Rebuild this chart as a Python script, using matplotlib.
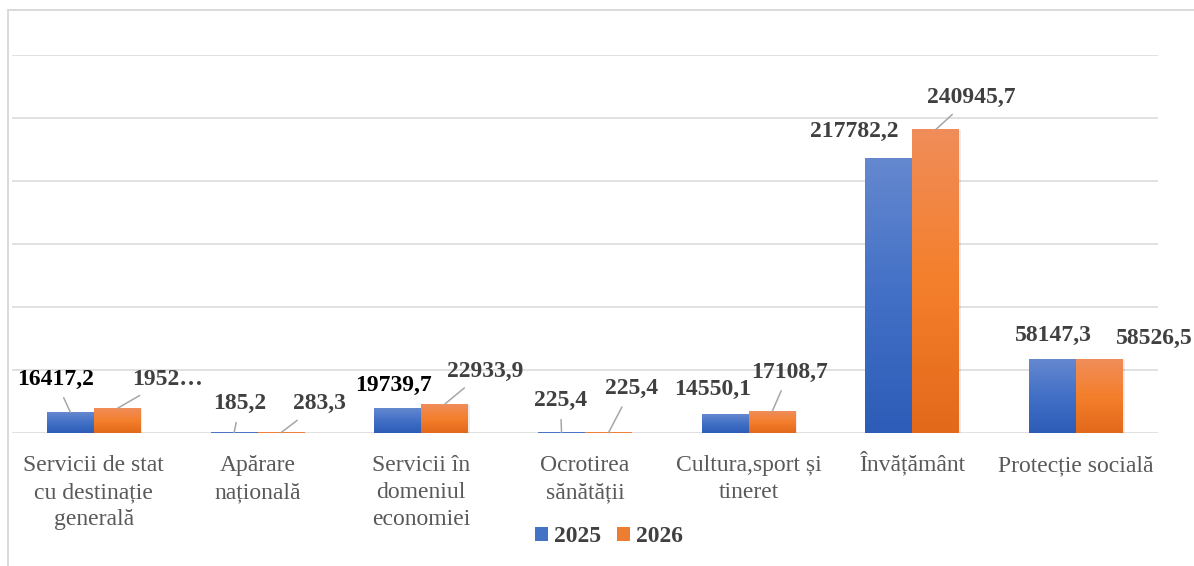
import numpy as np
import matplotlib
matplotlib.use("Agg")
import matplotlib.pyplot as plt
from matplotlib.colors import LinearSegmentedColormap
from matplotlib.patches import Patch, Rectangle
from matplotlib.transforms import ScaledTranslation

# ---- data ----
categories = [
    "Servicii de stat\ncu destinație\ngenerală",
    "Apărare\nnațională",
    "Servicii în\ndomeniul\neconomiei",
    "Ocrotirea\nsănătății",
    "Cultura,sport și\ntineret",
    "Învățământ",
    "Protecție socială",
]
series_names = ["2025", "2026"]
values_2025 = [16417.2, 185.2, 19739.7, 225.4, 14550.1, 217782.2, 58147.3]
values_2026 = [19520.0, 283.3, 22933.9, 225.4, 17108.7, 240945.7, 58526.5]
labels_2025 = ["16417,2", "185,2", "19739,7", "225,4", "14550,1", "217782,2", "58147,3"]
labels_2026 = ["1952…", "283,3", "22933,9", "225,4", "17108,7", "240945,7", "58526,5"]
y_ticks = [0, 50000, 100000, 150000, 200000, 250000, 300000]

# ---- label layout (offsets in pixels from bar-top centre) ----
off_2025 = [(-15, 33), (6, 29), (-4, 23), (-1, 32), (-13, 25), (-35, 27), (1, 24)]
off_2026 = [(50, 29), (38, 29), (40, 33), (23, 44), (17, 39), (35, 32), (55, 21)]
leader_2025 = [True, True, False, True, False, False, False]
leader_2026 = [True, True, True, True, True, True, False]
color_2025 = ["#000000", "#404040", "#000000", "#404040", "#404040", "#404040", "#404040"]
color_2026 = ["#404040"] * 7

FONT = ["Liberation Serif", "DejaVu Serif"]
plt.rcParams["font.family"] = FONT

W, H = 1194, 566
fig = plt.figure(figsize=(W / 100, H / 100), dpi=100)
ax = fig.add_axes([12 / W, (H - 433) / H, (1158 - 12) / W, (433 - 55) / H])

# outer chart frame (only left/top visible)
fig.patches.append(Rectangle((8 / W, -0.2), 1.5, (H - 10) / H + 0.2, transform=fig.transFigure,
                             fill=False, edgecolor="#d9d9d9", lw=1.4, zorder=0))

x = np.arange(len(categories))
bw = 0.287
bars1 = ax.bar(x - bw / 2, values_2025, bw, color="none", zorder=3)
bars2 = ax.bar(x + bw / 2, values_2026, bw, color="none", zorder=3)

cmap_b = LinearSegmentedColormap.from_list("b", ["#2d5cb8", "#4270c6", "#6588cf"])
cmap_o = LinearSegmentedColormap.from_list("o", ["#e2691a", "#f47f2c", "#f08d5a"])
grad = np.linspace(0, 1, 256).reshape(-1, 1)
for bars, cmap in ((bars1, cmap_b), (bars2, cmap_o)):
    for r in bars:
        x0, y0, w, h = r.get_x(), r.get_y(), r.get_width(), r.get_height()
        # soft shadow
        ax.add_patch(Rectangle((x0 + 0.006, y0 - 600), w + 0.004, h, facecolor="#000000",
                               alpha=0.08, lw=0, zorder=1.8))
        ax.imshow(grad, extent=(x0, x0 + w, y0, y0 + h), origin="lower", cmap=cmap,
                  aspect="auto", zorder=2, interpolation="bilinear")

ax.set_xlim(-0.5, len(categories) - 0.5)
ax.set_ylim(0, 300000)
ax.set_yticks(y_ticks)
ax.yaxis.grid(True, color="#d9d9d9", lw=1.1, zorder=0)
ax.set_axisbelow(True)
ax.tick_params(axis="y", length=0, labelleft=False)
ax.set_xticks(x)
ax.set_xticklabels(categories, fontsize=17, color="#595959", linespacing=1.37)
ax.tick_params(axis="x", length=0, pad=16)
for s in ax.spines.values():
    s.set_visible(False)
# the circumflex on "Î" makes that single line taller; lift it to match the others
_lab = ax.get_xticklabels()[5]
_lab.set_transform(_lab.get_transform() + ScaledTranslation(0, 5 / 100, fig.dpi_scale_trans))

def put_labels(bars, labels, offs, leaders, colors):
    for r, lab, (dx, dy), ld, c in zip(bars, labels, offs, leaders, colors):
        cx = r.get_x() + r.get_width() / 2
        top = r.get_height()
        ap = dict(arrowstyle="-", color="#a6a6a6", lw=1.1, shrinkA=4, shrinkB=0) if ld else None
        ax.annotate(lab, xy=(cx, top), xytext=(dx, dy), textcoords="offset pixels",
                    ha="center", va="center", fontsize=17, fontweight="bold", color=c,
                    arrowprops=ap, zorder=5, annotation_clip=False)

put_labels(bars1, labels_2025, off_2025, leader_2025, color_2025)
put_labels(bars2, labels_2026, off_2026, leader_2026, color_2026)

handles = [Patch(facecolor="#4472c4"), Patch(facecolor="#ed7d31")]
leg = fig.legend(handles, series_names, loc="center", bbox_to_anchor=(609 / W, (H - 537) / H),
                 ncol=2, frameon=False, prop=dict(family=FONT, size=17, weight="bold"),
                 handlelength=0.55, handleheight=0.55, handletextpad=0.25, columnspacing=0.7)
for t in leg.get_texts():
    t.set_color("#404040")

fig.savefig("out.png", dpi=100)
